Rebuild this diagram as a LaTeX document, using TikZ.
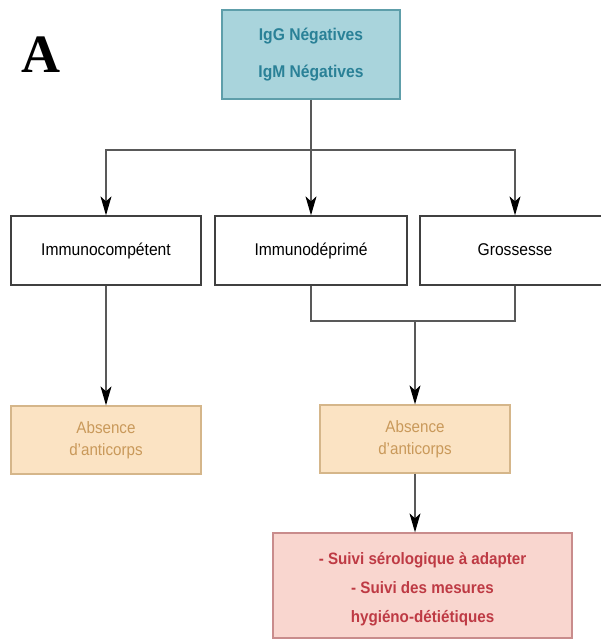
\documentclass[tikz,border=0pt]{standalone}
\usepackage{fontspec}
\setmainfont[FakeStretch=0.92]{Liberation Sans}
\newfontfamily\lettre{Liberation Serif}
\usepackage{tikz}
\usetikzlibrary{arrows.meta}
\usetikzlibrary{positioning}
\definecolor{tealfill}{HTML}{A9D4DC}
\definecolor{tealline}{HTML}{5E9EAA}
\definecolor{tealtext}{HTML}{2A8197}
\definecolor{orfill}{HTML}{FBE3C3}
\definecolor{orline}{HTML}{D5B68A}
\definecolor{ortext}{HTML}{C9995A}
\definecolor{redfill}{HTML}{F9D6CF}
\definecolor{redline}{HTML}{C98C8C}
\definecolor{redtext}{HTML}{BE3A44}
\tikzset{
	box/.style={draw=black!75,line width=1.3pt,minimum width=190pt,minimum height=69pt,inner sep=0pt,align=center,font=\fontsize{17}{20}\selectfont},
	single/.style={text height=12.5pt,text depth=3.5pt},
	igbox/.style={box,fill=tealfill,draw=tealline,text=tealtext,minimum width=178pt,minimum height=89pt,font=\fontsize{17}{37}\selectfont\bfseries},
	absbox/.style={box,fill=orfill,draw=orline,text=ortext,minimum height=68pt,font=\fontsize{16.5}{22}\selectfont},
	suivibox/.style={box,fill=redfill,draw=redline,text=redtext,minimum width=299pt,minimum height=105pt,font=\fontsize{16.5}{29}\selectfont\bfseries},
	conn/.style={draw=black!65,line width=1.3pt},
	arr/.style={conn,-{Stealth[length=19pt,width=11pt,inset=5pt,black]}},
}
\begin{document}
\begin{tikzpicture}[x=1pt,y=-1pt]
	\useasboundingbox (0,0) rectangle (601,639);
	\node[font=\lettre\fontsize{54}{54}\selectfont\bfseries] (lettre) at (41,55) {A};
	% serologie de depart
	\node[igbox] (ig) at (311,54.5) {IgG Négatives\\IgM Négatives};
	% terrain
	\node[box,single] (immc) at (106,250.5) {Immunocompétent};
	\node[box,single,minimum width=192pt] (immd) at (311,250.5) {Immunodéprimé};
	\node[box,single] (gross) at (515,250.5) {Grossesse};
	% conduite
	\node[absbox] (abs1) at (106,440) {Absence\\d'anticorps};
	\node[absbox] (abs2) at (415,439) {Absence\\d'anticorps};
	\node[suivibox] (suivi) at (422.5,585.5) {\rule{0pt}{20pt}- Suivi sérologique à adapter\\- Suivi des mesures\\hygiéno-détiétiques};
	\coordinate (split) at (311,150);
	\coordinate (join) at (415,321);
	\draw[conn] (ig.south) -- (split);
	\draw[arr] (split) -| (immc.north);
	\draw[arr] (split) -- (immd.north);
	\draw[arr] (split) -| (gross.north);
	\draw[arr] (immc.south) -- (abs1.north);
	\draw[conn] (immd.south) |- (join) -| (gross.south);
	\draw[arr] (join) -- (abs2.north);
	\draw[arr] (abs2.south) -- (abs2.south |- suivi.north);
\end{tikzpicture}
\end{document}
